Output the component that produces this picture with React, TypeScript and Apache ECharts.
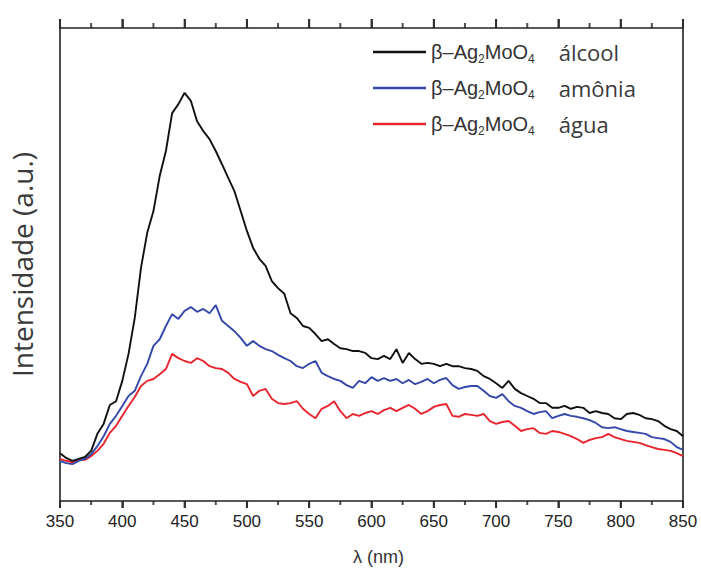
import React, { useEffect, useRef } from "react";
import * as echarts from "echarts";

// Wavelength grid (nm), 5 nm steps from 350 to 850
const wavelengths: number[] = [];
for (let w = 350; w <= 850; w += 5) wavelengths.push(w);

const xTicks = [350, 400, 450, 500, 550, 600, 650, 700, 750, 800, 850];
const xMinorTicks = [375, 425, 475, 525, 575, 625, 675, 725, 775, 825];

const yMin = 0;
const yMax = 100;

// Photoluminescence intensity (a.u.) of the three samples
const alcool = [
  10.1, 9.1, 8.5, 8.9, 9.3, 10.6, 14.2, 16.3, 20.3, 21.1,
  25.4, 31.1, 38.7, 49.3, 56.7, 61.3, 68.7, 74.0, 82.0, 83.9,
  86.3, 84.6, 80.3, 78.2, 76.5, 74.0, 71.2, 68.3, 65.5, 61.3,
  57.1, 53.5, 51.2, 49.7, 46.5, 45.0, 43.8, 39.7, 38.7, 37.0,
  36.6, 35.3, 33.8, 34.2, 33.2, 32.3, 32.1, 31.7, 31.7, 31.3,
  30.2, 30.0, 30.7, 30.0, 32.1, 29.2, 31.3, 30.0, 29.0, 29.2,
  29.0, 28.5, 29.0, 28.5, 28.5, 28.1, 27.9, 27.5, 26.4, 25.8,
  24.9, 23.9, 25.4, 23.7, 22.8, 22.2, 21.6, 20.7, 20.7, 19.7,
  19.7, 20.1, 19.5, 19.9, 19.7, 18.6, 19.0, 18.6, 18.4, 17.5,
  17.3, 18.4, 18.6, 18.2, 17.5, 17.3, 16.9, 15.9, 15.2, 14.8,
  13.7,
];

const amonia = [
  8.5, 8.0, 7.8, 8.5, 8.9, 9.9, 11.6, 13.7, 16.3, 18.0,
  20.1, 22.2, 23.3, 26.4, 29.0, 32.8, 34.2, 37.0, 39.5, 38.5,
  40.2, 41.0, 40.0, 40.6, 39.7, 41.4, 38.1, 37.0, 35.9, 34.5,
  32.8, 33.8, 32.8, 32.1, 31.7, 30.9, 30.2, 29.6, 28.5, 28.1,
  29.0, 29.6, 27.1, 26.4, 25.8, 25.4, 24.5, 23.9, 25.4, 24.9,
  26.2, 25.4, 26.0, 25.4, 25.8, 24.9, 25.6, 24.7, 25.2, 25.8,
  24.9, 25.6, 26.0, 24.5, 23.7, 24.1, 24.3, 24.3, 23.3, 22.2,
  21.8, 22.6, 21.1, 20.1, 19.7, 19.0, 18.4, 18.8, 19.0, 17.5,
  18.0, 18.4, 18.0, 17.8, 17.5, 17.1, 16.5, 15.6, 15.4, 15.6,
  15.2, 14.8, 14.6, 14.4, 14.2, 13.5, 13.3, 13.1, 12.5, 11.4,
  10.8,
];

const agua = [
  8.9, 8.5, 8.2, 8.7, 8.7, 9.5, 10.6, 12.1, 14.4, 15.9,
  18.0, 20.1, 22.0, 24.3, 25.4, 25.8, 26.8, 27.9, 31.1, 30.2,
  29.6, 29.2, 30.2, 29.6, 28.5, 28.1, 27.9, 27.1, 25.8, 25.2,
  24.7, 22.2, 23.3, 23.7, 21.6, 20.7, 20.5, 20.7, 21.1, 19.5,
  18.4, 17.5, 19.5, 20.1, 21.1, 19.0, 17.5, 18.4, 18.0, 18.6,
  19.0, 18.4, 19.2, 19.7, 19.0, 19.7, 20.3, 19.5, 18.4, 19.0,
  19.9, 20.3, 20.5, 18.0, 17.8, 18.4, 18.2, 18.0, 18.4, 16.9,
  16.3, 16.7, 16.9, 15.9, 14.8, 15.2, 15.4, 14.4, 14.2, 14.8,
  14.6, 14.2, 13.7, 13.1, 12.3, 12.9, 13.3, 13.5, 14.2, 13.5,
  13.1, 12.7, 12.5, 12.3, 11.8, 11.4, 11.0, 10.8, 10.6, 10.1,
  9.5,
];

const seriesNames = ["álcool", "amônia", "água"];
const seriesColors = ["#111111", "#3548a8", "#e8252e"];

const pairs = (ys: number[]) => wavelengths.map((w, i) => [w, ys[i]]);

const axisColor = "#222";
const labelFont = "'Liberation Sans', Arial, sans-serif";
const frameLine = { show: true, onZero: false, lineStyle: { color: axisColor, width: 1.6 } };

// Outward tick marks on the frame, drawn as thin rect symbols at the axis limits
const tickMarks = (values: number[], atY: number, len: number, outward: number) => ({
  type: "scatter",
  clip: false,
  symbol: "rect",
  symbolSize: [2, len],
  symbolOffset: [0, (outward * len) / 2],
  itemStyle: { color: axisColor },
  data: values.map((v) => [v, atY]),
});

export default function App() {
  const ref = useRef<HTMLDivElement>(null);

  useEffect(() => {
    document.body.style.margin = "0";
    if (!ref.current) return;
    const chart = echarts.init(ref.current, undefined, { renderer: "svg" });

    chart.setOption({
      animation: false,
      grid: { left: 60, right: 18, top: 28, bottom: 74 },
      legend: {
        orient: "vertical",
        left: 368,
        top: 34,
        itemWidth: 53,
        itemHeight: 2.5,
        itemGap: 10,
        icon: "rect",
        data: seriesNames,
        formatter: (name: string) => `β–Ag{s|2}MoO{s|4}{n|${name}}`,
        textStyle: {
          fontFamily: labelFont,
          fontSize: 20,
          color: "#333",
          lineHeight: 26,
          rich: {
            s: { fontSize: 12, fontFamily: labelFont, color: "#333", verticalAlign: "bottom", lineHeight: 14 },
            n: {
              fontSize: 22,
              fontFamily: "'Open Sans', sans-serif",
              color: "#3a3a3a",
              lineHeight: 26,
              padding: [0, 0, 0, 24],
            },
          },
        },
      },
      xAxis: [
        {
          type: "value",
          min: 350,
          max: 850,
          interval: 50,
          position: "bottom",
          name: "λ (nm)",
          nameLocation: "middle",
          nameGap: 47,
          nameTextStyle: { fontFamily: labelFont, fontSize: 18, color: "#333", padding: [0, 0, 0, 14] },
          axisLine: frameLine,
          axisTick: { show: true, length: 7, lineStyle: { color: axisColor, width: 1.5 } },
          axisLabel: { show: true, fontFamily: labelFont, fontSize: 17, color: "#222", margin: 12 },
          splitLine: { show: false },
        },
        {
          type: "value",
          min: 350,
          max: 850,
          interval: 50,
          position: "top",
          axisLine: frameLine,
          axisTick: { show: true, length: 9, lineStyle: { color: axisColor, width: 1.5 } },
          axisLabel: { show: false },
          splitLine: { show: false },
        },
      ],
      yAxis: [
        {
          type: "value",
          min: yMin,
          max: yMax,
          position: "left",
          name: "Intensidade (a.u.)",
          nameLocation: "middle",
          nameGap: 24,
          nameTextStyle: { fontFamily: "'Open Sans', sans-serif", fontSize: 28, color: "#3a3a3a" },
          axisLine: frameLine,
          axisTick: { show: false },
          axisLabel: { show: false },
          splitLine: { show: false },
        },
        {
          type: "value",
          min: yMin,
          max: yMax,
          position: "right",
          axisLine: frameLine,
          axisTick: { show: false },
          axisLabel: { show: false },
          splitLine: { show: false },
        },
      ],
      series: [
        ...[alcool, amonia, agua].map((ys, i) => ({
          name: seriesNames[i],
          type: "line",
          data: pairs(ys),
          showSymbol: false,
          symbol: "none",
          smooth: false,
          lineStyle: { color: seriesColors[i], width: 1.9 },
          itemStyle: { color: seriesColors[i] },
          z: 3 - i,
        })),
        tickMarks(xTicks, yMin, 7, 1),
        tickMarks(xMinorTicks, yMin, 4, 1),
        tickMarks(xTicks, yMax, 9, -1),
        tickMarks(xMinorTicks, yMax, 5, -1),
      ],
    });

    return () => chart.dispose();
  }, []);

  return <div ref={ref} style={{ width: 701, height: 575, background: "#fff" }} />;
}
